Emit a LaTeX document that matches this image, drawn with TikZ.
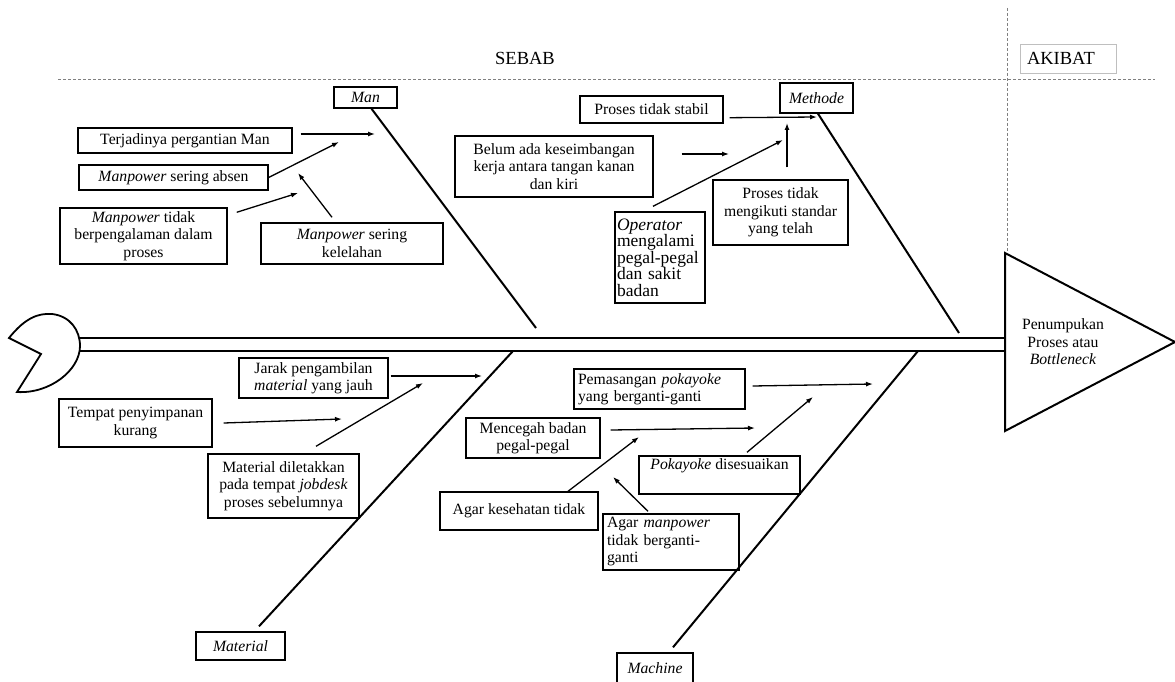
\documentclass[tikz,border=0pt]{standalone}
\usepackage{fontspec}
\setmainfont{Liberation Serif}
\usetikzlibrary{arrows.meta}

\begin{document}
\begin{tikzpicture}[
  x=1pt, y=-1pt,
  cause/.style={rectangle, draw, line width=1.4pt, inner sep=2pt, align=center},
  category/.style={rectangle, draw, line width=1.4pt, inner sep=2pt, font=\fontsize{15.7}{17.5}\selectfont\itshape},
  bone/.style={line width=2pt},
  causearrow/.style={-{Latex[length=7pt,width=5pt]}, line width=1.3pt},
  guide/.style={gray, line width=0.7pt, dash pattern=on 3pt off 2pt},
  font=\fontsize{15.7}{17.5}\selectfont
]
\useasboundingbox (0,0) rectangle (1175,682);

\node[font=\fontsize{18.5}{20}\selectfont] (sebab) at (525,58) {SEBAB};
\node[draw=gray!50, line width=0.8pt, text width=82pt, inner xsep=7pt, minimum height=29pt, align=left, font=\fontsize{18.5}{20}\selectfont] (akibat) at (1068,58.5) {AKIBAT};
\draw[guide] (58,79) -- (1155,79);
\draw[guide] (1007,8) -- (1007,253);

\coordinate (headtop) at (1005,253);
\coordinate (headtip) at (1175,342);
\coordinate (headbottom) at (1005,431);
\draw[line width=2pt] (headtop) -- (headtip) -- (headbottom) -- cycle;
\node[align=center] (effect) at (1063,342) {Penumpukan\\Proses atau\\\textit{Bottleneck}};

\draw[line width=1.8pt] (9,338) .. controls (25,318) and (38,313) .. (52,314) .. controls (70,316) and (80,330) .. (80,346) .. controls (80,370) and (50,394) .. (17,392) -- (41,354) -- cycle;
\draw[line width=1.6pt] (80,338) -- (headtop |- 0,338);
\draw[line width=1.6pt] (80,351) -- (headtop |- 0,351);

\node[category, minimum width=63pt, minimum height=21pt] (man) at (365.5,97.5) {Man};
\node[category, minimum width=73pt, minimum height=30pt] (methode) at (816.5,98) {Methode};
\node[category, minimum width=89pt, minimum height=28pt] (material) at (240.5,646) {Material};
\node[category, minimum width=76pt, minimum height=31pt] (machine) at (655,668.5) {Machine};

\coordinate (manend) at (536,328);
\coordinate (methodeend) at (959,333);
\coordinate (materialend) at (513,351);
\coordinate (machineend) at (918,351);
\draw[bone] ([xshift=6pt]man.south) -- (manend);
\draw[bone] ([xshift=1.5pt]methode.south) -- (methodeend);
\draw[bone] ([xshift=18.5pt,yshift=5pt]material.north) -- (materialend);
\draw[bone] ([xshift=18pt,yshift=5pt]machine.north) -- (machineend);

\node[cause, minimum width=214pt, minimum height=25pt] (pergantian) at (185,140.5) {Terjadinya\ pergantian Man};
\node[cause, minimum width=189pt, minimum height=25pt] (absen) at (173.5,177.5) {\textit{Manpower} sering absen};
\node[cause, minimum width=167pt, minimum height=56pt] (pengalaman) at (143.5,236) {\textit{Manpower} tidak\\berpengalaman dalam\\proses};
\node[cause, minimum width=182pt, minimum height=41pt] (kelelahan) at (352,243.5) {\textit{Manpower} sering\\kelelahan};

\node[cause, minimum width=143pt, minimum height=27pt] (stabil) at (651.5,109.5) {Proses tidak stabil};
\node[cause, minimum width=198pt, minimum height=61pt] (seimbang) at (554,166.5) {Belum ada keseimbangan\\kerja antara tangan kanan\\dan kiri};
\node[cause, text width=86pt, inner xsep=2pt, minimum height=91pt, align=left, font=\fontsize{17.5}{16.5}\selectfont] (operator) at (660,257.5) {\textit{Operator}\\mengalami\\pegal-pegal\\dan sakit\\badan};
\node[cause, minimum width=135pt, minimum height=65pt] (standar) at (780.5,212.5) {Proses tidak\\mengikuti standar\\yang telah};

\node[cause, minimum width=149pt, minimum height=40pt] (jarak) at (313.5,378) {Jarak pengambilan\\\textit{material} yang jauh};
\node[cause, minimum width=153pt, minimum height=48pt] (penyimpanan) at (135.5,423) {Tempat penyimpanan\\kurang};
\node[cause, minimum width=151pt, minimum height=64pt] (jobdesk) at (283.5,486) {Material diletakkan\\pada tempat \textit{jobdesk}\\proses sebelumnya};

\node[cause, text width=163pt, inner xsep=4pt, minimum height=40pt, align=left] (pokayoke) at (659.5,389) {Pemasangan \textit{pokayoke}\\yang berganti-ganti};
\node[cause, minimum width=134pt, minimum height=40pt] (pegal) at (533,438) {Mencegah badan\\pegal-pegal};
\node[cause, minimum width=161pt, minimum height=38pt] (sesuai) at (719.5,475) {\textit{Pokayoke} disesuaikan\\\strut};
\node[cause, minimum width=158pt, minimum height=38pt] (sehat) at (519,511) {Agar kesehatan tidak};
\node[cause, text width=128pt, inner xsep=4pt, minimum height=56pt, align=left] (gantian) at (671,542) {Agar \textit{manpower}\\tidak berganti-\\ganti};

\coordinate (m1) at (375,134);
\coordinate (m2) at (339,142);
\coordinate (m3) at (298,193);
\coordinate (m4) at (298,173);
\coordinate (t1) at (817,117);
\coordinate (t2) at (729,154);
\coordinate (t3) at (783,140);
\coordinate (t4) at (787,123);
\coordinate (r1) at (482,376);
\coordinate (r2) at (342,419);
\coordinate (r3) at (423,383);
\coordinate (k1) at (873,384);
\coordinate (k2) at (755,428);
\coordinate (k3) at (813,397);
\coordinate (k4) at (639,437);
\coordinate (k5) at (613,477);

\draw[causearrow] ([xshift=8pt,yshift=6.5pt]pergantian.east) -- (m1);
\draw[causearrow] (absen.east) -- (m2);
\draw[causearrow] ([xshift=9pt,yshift=-5pt]pengalaman.north east) -- (m3);
\draw[causearrow] ([xshift=-20pt,yshift=5pt]kelelahan.north) -- (m4);
\draw[causearrow] ([xshift=6pt,yshift=6pt]stabil.south east) -- (t1);
\draw[causearrow] ([xshift=28pt,yshift=12.5pt]seimbang.east) -- (t2);
\draw[causearrow] ([xshift=-7pt,yshift=5pt]operator.north) -- (t3);
\draw[causearrow] ([xshift=6.5pt,yshift=12pt]standar.north) -- (t4);
\draw[causearrow] ([xshift=2pt,yshift=2pt]jarak.east) -- (r1);
\draw[causearrow] ([xshift=11pt]penyimpanan.east) -- (r2);
\draw[causearrow] ([xshift=32.5pt,yshift=7pt]jobdesk.north) -- (r3);
\draw[causearrow] ([xshift=7pt,yshift=3pt]pokayoke.east) -- (k1);
\draw[causearrow] ([xshift=10pt,yshift=8pt]pegal.east) -- (k2);
\draw[causearrow] ([xshift=27.5pt,yshift=3pt]sesuai.north) -- (k3);
\draw[causearrow] ([xshift=49pt]sehat.north) -- (k4);
\draw[causearrow] ([xshift=-23pt,yshift=2pt]gantian.north) -- (k5);
\end{tikzpicture}
\end{document}
